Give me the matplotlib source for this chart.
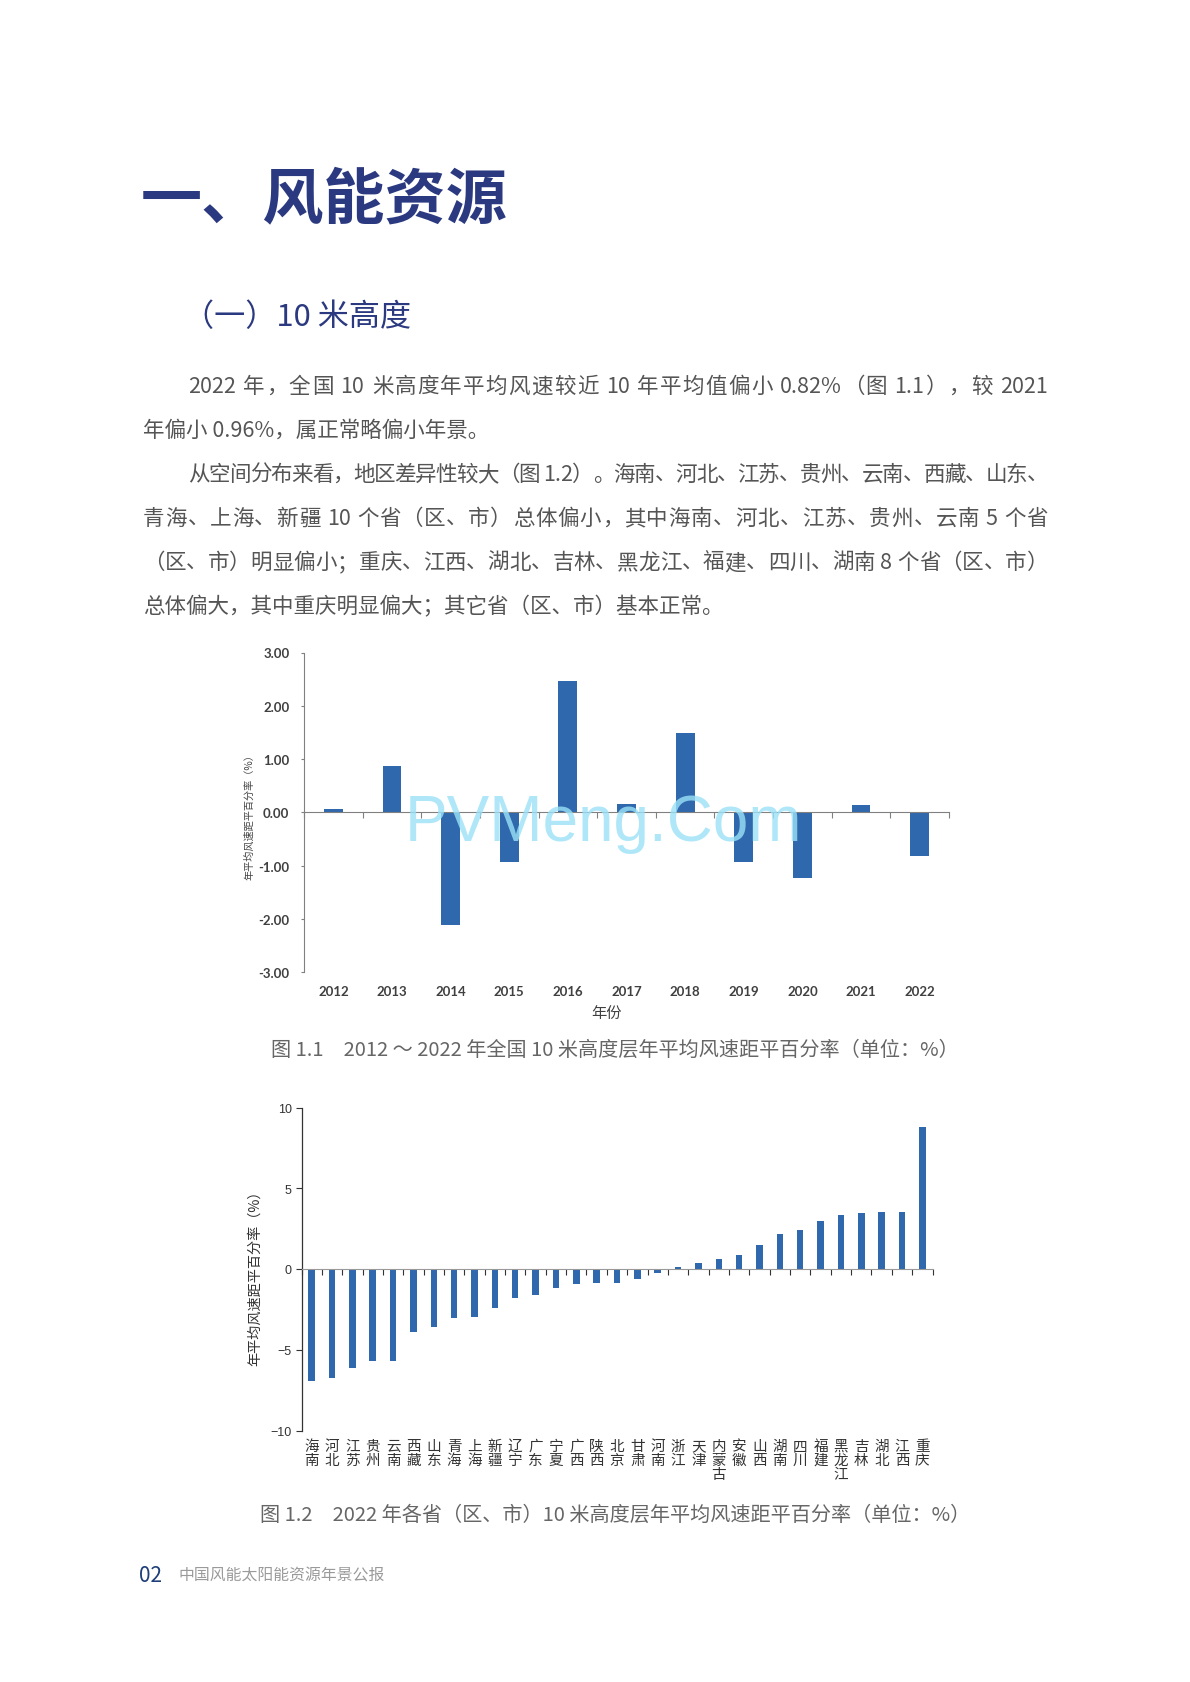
import re
import matplotlib
matplotlib.use('Agg')
import matplotlib.pyplot as plt
from matplotlib.font_manager import FontProperties
import numpy as np

plt.rcParams['font.family'] = ['Noto Sans CJK SC', 'DejaVu Sans']
plt.rcParams['axes.unicode_minus'] = True

# ---------------- data ----------------
years = ['2012', '2013', '2014', '2015', '2016', '2017', '2018', '2019', '2020', '2021', '2022']
year_anom = [0.06, 0.87, -2.12, -0.93, 2.47, 0.16, 1.49, -0.93, -1.23, 0.13, -0.82]

provinces = ['海南', '河北', '江苏', '贵州', '云南', '西藏', '山东', '青海', '上海', '新疆',
             '辽宁', '广东', '宁夏', '广西', '陕西', '北京', '甘肃', '河南', '浙江', '天津',
             '内蒙古', '安徽', '山西', '湖南', '四川', '福建', '黑龙江', '吉林', '湖北', '江西', '重庆']
prov_anom = [-6.96, -6.75, -6.1, -5.68, -5.68, -3.88, -3.59, -3.01, -2.95, -2.44,
             -1.82, -1.61, -1.16, -0.91, -0.84, -0.84, -0.62, -0.23, 0.10, 0.37,
             0.62, 0.87, 1.49, 2.17, 2.41, 2.99, 3.34, 3.45, 3.53, 3.53, 8.79]

y1_ticks = [3, 2, 1, 0, -1, -2, -3]
y2_ticks = [10, 5, 0, -5, -10]

title = '一、风能资源'
subtitle = '（一）10 米高度'
body_lines = [
    '2022 年，全国 10 米高度年平均风速较近 10 年平均值偏小 0.82%（图 1.1），较 2021',
    '年偏小 0.96%，属正常略偏小年景。',
    '从空间分布来看，地区差异性较大（图 1.2）。海南、河北、江苏、贵州、云南、西藏、山东、',
    '青海、上海、新疆 10 个省（区、市）总体偏小，其中海南、河北、江苏、贵州、云南 5 个省',
    '（区、市）明显偏小；重庆、江西、湖北、吉林、黑龙江、福建、四川、湖南 8 个省（区、市）',
    '总体偏大，其中重庆明显偏大；其它省（区、市）基本正常。',
]
body_indent = [True, False, True, False, False, False]
body_justify = [True, False, True, True, True, False]
caption1 = '图 1.1　2012 ～ 2022 年全国 10 米高度层年平均风速距平百分率（单位：%）'
caption2 = '图 1.2　2022 年各省（区、市）10 米高度层年平均风速距平百分率（单位：%）'
ylabel1 = '年平均风速距平百分率（%）'
xlabel1 = '年份'
ylabel2 = '年平均风速距平百分率（%）'
footer_num = '02'
footer_txt = '中国风能太阳能资源年景公报'
watermark = 'PVMeng.Com'

# ---------------- layout ----------------
W, H = 1190, 1683
fig = plt.figure(figsize=(W / 100, H / 100), dpi=100)
fig.patch.set_facecolor('white')
renderer = fig.canvas.get_renderer()


def fx(x):
    return x / W


def fy(y):
    return 1 - y / H


def px_axes(x0, y0, x1, y1):
    return fig.add_axes([fx(x0), fy(y1), (x1 - x0) / W, (y1 - y0) / H])


navy = '#2b3a80'
bar_blue = '#2f68ad'

fig.text(fx(141), fy(201), title, fontsize=44, fontweight='bold', color=navy, va='center', ha='left')
fig.text(fx(183), fy(318), subtitle, fontsize=22.4, color=navy, va='center', ha='left')

# body text with CJK-style justification
body_fs = 15.5
body_prop = FontProperties(family=['Noto Sans CJK SC', 'DejaVu Sans'], size=body_fs, weight='light')


def advance(s):
    w1, _, _ = renderer.get_text_width_height_descent('x' + s + 'x', body_prop, ismath=False)
    w0, _, _ = renderer.get_text_width_height_descent('xx', body_prop, ismath=False)
    return w1 - w0


line_y = [387, 431, 475, 519, 563, 607]
x_left, x_indent, x_right = 143, 188, 1048
for txt, ind, just, yy in zip(body_lines, body_indent, body_justify, line_y):
    x0 = x_indent if ind else x_left
    if not just:
        fig.text(fx(x0), fy(yy), txt, fontproperties=body_prop, color='#555555',
                 va='center', ha='left')
        continue
    toks = re.findall(r'[A-Za-z0-9.%]+| |.', txt)
    widths = [advance(t) for t in toks]
    gap = (x_right - x0 - sum(widths)) / (len(toks) - 1)
    xc = x0
    for t, w in zip(toks, widths):
        if t != ' ':
            fig.text(fx(xc), fy(yy), t, fontproperties=body_prop, color='#555555',
                     va='center', ha='left')
        xc += w + gap

fig.text(fx(615), fy(1050), caption1, fontsize=14.5, color='#666666', ha='center', va='center',
         fontweight='light')
fig.text(fx(615), fy(1515), caption2, fontsize=14.5, color='#666666', ha='center', va='center',
         fontweight='light')
fig.text(fx(139), fy(1576), footer_num, fontsize=15, color='#1f3f7a', ha='left', va='center')
fig.text(fx(179), fy(1576), footer_txt, fontsize=11.4, color='#9a9a9a', ha='left', va='center',
         fontweight='light')

# ---------------- chart 1 ----------------
ax1 = px_axes(304, 653.5, 949, 973.3)
x1 = np.arange(len(years))
ax1.bar(x1, year_anom, width=0.32, color=bar_blue, zorder=2)
ax1.set_xlim(-0.5, len(years) - 0.5)
ax1.set_ylim(-3, 3)
ax1.set_yticks(y1_ticks)
ax1.set_yticklabels(['%.2f' % v for v in y1_ticks], fontfamily='Lato', fontweight='bold',
                    fontsize=9.5, color='#404040')
for s in ['top', 'right']:
    ax1.spines[s].set_visible(False)
ax1.spines['left'].set_color('#808080')
ax1.spines['bottom'].set_position(('data', 0))
ax1.spines['bottom'].set_color('#808080')
ax1.set_xticks(np.arange(len(years) + 1) - 0.5)
ax1.set_xticklabels([])
ax1.tick_params(axis='x', direction='out', length=4, color='#808080')
ax1.tick_params(axis='y', direction='out', length=2.5, color='#808080', pad=8)
sec1 = ax1.secondary_xaxis('bottom')
sec1.spines['bottom'].set_visible(False)
sec1.set_xticks(x1)
sec1.set_xticklabels(years, fontfamily='Lato', fontweight='bold', fontsize=9.5, color='#404040')
sec1.tick_params(length=0, pad=9)
ax1.patch.set_alpha(0)

fig.text(fx(249), fy(815), ylabel1, rotation=90, fontsize=7.3, color='#444444', ha='center', va='center')
fig.text(fx(607), fy(1013), xlabel1, fontsize=11, color='#404040', ha='center', va='center')

# ---------------- chart 2 ----------------
ax2 = px_axes(301.5, 1108.5, 932.5, 1431.5)
x2 = np.arange(len(provinces))
ax2.bar(x2, prov_anom, width=0.32, color=bar_blue, zorder=2)
ax2.set_xlim(-0.5, len(provinces) - 0.5)
ax2.set_ylim(-10, 10)
ax2.set_yticks(y2_ticks)
ax2.set_yticklabels([('−' if v < 0 else '') + str(abs(v)) for v in y2_ticks],
                    fontfamily='Liberation Sans', fontsize=9, color='#333333')
for s in ['top', 'right']:
    ax2.spines[s].set_visible(False)
ax2.spines['left'].set_color('#333333')
ax2.spines['left'].set_linewidth(0.9)
ax2.spines['bottom'].set_position(('data', 0))
ax2.spines['bottom'].set_color('#999999')
ax2.set_xticks(np.arange(len(provinces) + 1) - 0.5)
ax2.set_xticklabels([])
ax2.tick_params(axis='x', direction='out', length=4, color='#333333')
ax2.tick_params(axis='y', direction='out', length=4, color='#333333', pad=3)
sec2 = ax2.secondary_xaxis('bottom')
sec2.spines['bottom'].set_visible(False)
sec2.set_xticks(x2)
sec2.set_xticklabels(['\n'.join(p) for p in provinces], fontsize=10.5, color='#333333',
                     linespacing=1.0, va='top')
sec2.tick_params(length=0, pad=6)
ax2.patch.set_alpha(0)

fig.text(fx(255), fy(1275), ylabel2, rotation=90, fontsize=10.2, color='#333333', ha='center', va='center')

# watermark
fig.text(fx(604), fy(824), watermark, fontsize=46, color='#9be2f8', alpha=0.8,
         family=['Liberation Sans', 'DejaVu Sans'], ha='center', va='center', zorder=10)

fig.savefig('out.png', dpi=100, facecolor='white')
